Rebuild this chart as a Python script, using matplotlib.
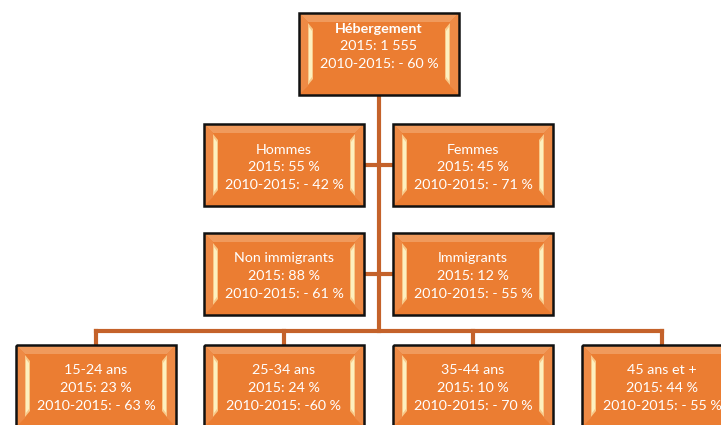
import matplotlib.pyplot as plt
from matplotlib.patches import Rectangle, Polygon

plt.rcParams['font.family'] = ['Lato', 'DejaVu Sans']

# node texts
top_title = 'Hébergement'
top_total = '1 555'
top_change = '- 60 %'

sex_labels = ['Hommes', 'Femmes']
sex_share = ['55 %', '45 %']
sex_change = ['- 42 %', '- 71 %']

imm_labels = ['Non immigrants', 'Immigrants']
imm_share = ['88 %', '12 %']
imm_change = ['- 61 %', '- 55 %']

age_labels = ['15-24 ans', '25-34 ans', '35-44 ans', '45 ans et +']
age_share = ['23 %', '24 %', '10 %', '44 %']
age_change = ['- 63 %', '-60 %', '- 70 %', '- 55 %']

W, H = 721, 425
fill = '#EB7D32'
line_c = '#C4622A'
bw, bh = 160, 82

fig = plt.figure(figsize=(W / 100, H / 100), dpi=100)
ax = fig.add_axes([0, 0, 1, 1])
ax.set_xlim(0, W)
ax.set_ylim(H, 0)
ax.axis('off')


def box(x, y, lines, bold_first=False, dy=0):
    ax.add_patch(Rectangle((x, y), bw, bh, facecolor=fill, edgecolor='none', zorder=3))
    # soft bevel: lighter top band and pale side strips
    ax.add_patch(Polygon([(x, y), (x + bw, y), (x + bw - 9, y + 9), (x + 9, y + 9)],
                         facecolor='#F09A5C', edgecolor='none', zorder=4))
    for sx, d in ((x, 1), (x + bw, -1)):
        ax.add_patch(Polygon([(sx, y), (sx + d * 9, y + 9), (sx + d * 9, y + bh - 9), (sx, y + bh)],
                             facecolor='#EE8A45', edgecolor='none', zorder=4))
        ax.add_patch(Polygon([(sx + d * 9, y + 10), (sx + d * 14, y + 16),
                              (sx + d * 14, y + bh - 16), (sx + d * 9, y + bh - 10)],
                             facecolor='#F8C98A', edgecolor='none', zorder=5))
        ax.add_patch(Polygon([(sx + d * 10, y + 14), (sx + d * 13, y + 18),
                              (sx + d * 13, y + bh - 18), (sx + d * 10, y + bh - 14)],
                             facecolor='#FDF0C0', edgecolor='none', zorder=5))
    ax.add_patch(Rectangle((x, y), bw, bh, facecolor='none', edgecolor='#111111', lw=1.8, zorder=6))
    cy = y + bh / 2 + dy
    for i, t in enumerate(lines):
        ax.text(x + bw / 2, cy + (i - 1) * 17.5, t, ha='center', va='center', color='white',
                fontsize=10.3, fontweight='bold' if (bold_first and i == 0) else 'normal', zorder=7)


# connectors
ax.plot([379, 379], [95, 331], color=line_c, lw=3, zorder=1)
ax.plot([364, 393], [165, 165], color=line_c, lw=3, zorder=1)
ax.plot([364, 393], [274, 274], color=line_c, lw=3, zorder=1)
age_x = [16, 204, 393, 582]
ax.plot([age_x[0] + 80, age_x[-1] + 80], [331, 331], color=line_c, lw=3, zorder=1)
for ax_x in age_x:
    ax.plot([ax_x + 80, ax_x + 80], [331, 345], color=line_c, lw=3, zorder=1)

box(299, 13, [top_title, '2015: ' + top_total, '2010-2015: ' + top_change], bold_first=True, dy=-8)
for i, x in enumerate([204, 393]):
    box(x, 124, [sex_labels[i], '2015: ' + sex_share[i], '2010-2015: ' + sex_change[i]], dy=2)
    box(x, 233, [imm_labels[i], '2015: ' + imm_share[i], '2010-2015: ' + imm_change[i]], dy=2)
for i, x in enumerate(age_x):
    box(x, 345, [age_labels[i], '2015: ' + age_share[i], '2010-2015: ' + age_change[i]], dy=2)

fig.savefig('out.png', dpi=100)
